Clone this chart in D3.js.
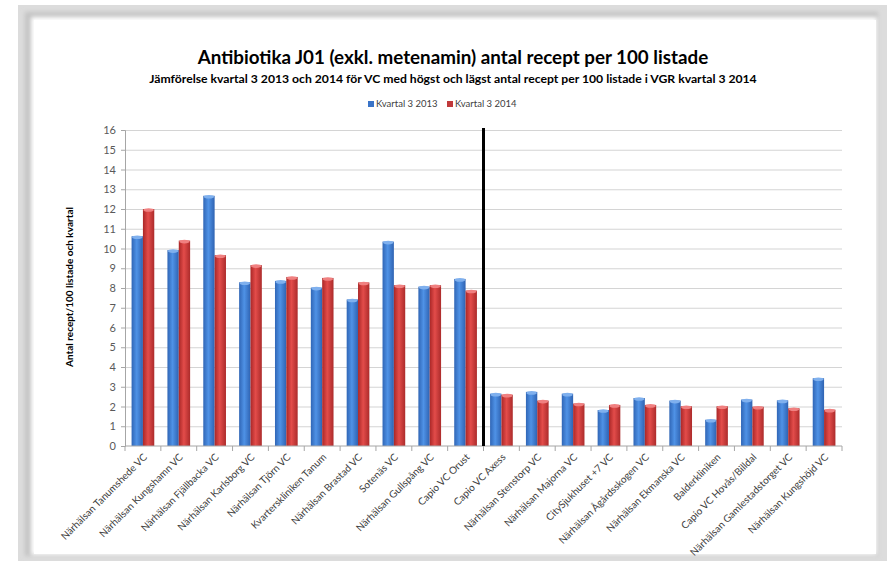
<!DOCTYPE html>
<html><head><meta charset="utf-8">
<script src="https://cdn.jsdelivr.net/npm/d3@7"></script>
<style>body{margin:0;background:#fff}svg{display:block}</style>
</head><body><svg id="c" width="887" height="561"></svg>
<script>
const categories = ["Närhälsan Tanumshede VC","Närhälsan Kungshamn VC","Närhälsan Fjällbacka VC","Närhälsan Karlsborg VC","Närhälsan Tjörn VC","Kvarterskliniken Tanum","Närhälsan Brastad VC","Sotenäs VC","Närhälsan Gullspång VC","Capio VC Orust","Capio VC Axess","Närhälsan Stenstorp VC","Närhälsan Majorna VC","CitySjukhuset +7 VC","Närhälsan Ågårdsskogen VC","Närhälsan Ekmanska VC","Balderkliniken","Capio VC Hovås/Billdal","Närhälsan Gamlestadstorget VC","Närhälsan Kungshöjd VC"];
const q3_2013 = [10.62,9.92,12.67,8.29,8.36,8.02,7.42,10.35,8.07,8.46,2.65,2.74,2.65,1.82,2.43,2.30,1.33,2.35,2.31,3.43];
const q3_2014 = [12.0,10.4,9.66,9.16,8.56,8.51,8.28,8.14,8.14,7.87,2.60,2.30,2.15,2.08,2.08,2.01,2.01,1.99,1.91,1.84];
const seriesNames = ["Kvartal 3 2013","Kvartal 3 2014"];
const yTicks = d3.range(0,17);
const dividerAfter = 10;

const svg = d3.select("#c");
const defs = svg.append("defs");
const blur = defs.append("filter").attr("id","bl").attr("x","-5%").attr("y","-5%").attr("width","110%").attr("height","110%");
blur.append("feGaussianBlur").attr("stdDeviation",2.2);
function grad(id, dark, mid, light){
  const g = defs.append("linearGradient").attr("id",id).attr("x1","0").attr("x2","1").attr("y1","0").attr("y2","0");
  g.append("stop").attr("offset","0%").attr("stop-color",dark);
  g.append("stop").attr("offset","45%").attr("stop-color",light);
  g.append("stop").attr("offset","100%").attr("stop-color",mid);
}
grad("gb","#3066b6","#2f63b2","#4f92e6");
grad("gr","#aa2727","#ac2b2b","#e34c4a");

// frame
svg.append("rect").attr("x",18).attr("y",5).attr("width",869).attr("height",556).attr("fill","#dcdcdc");
svg.append("rect").attr("x",25).attr("y",12).attr("width",853).attr("height",544).attr("fill","#c2c2c2").attr("filter","url(#bl)");
svg.append("rect").attr("x",31).attr("y",17).attr("width",846).attr("height",538).attr("fill","#fff").attr("filter","url(#bl)");
svg.append("rect").attr("x",34).attr("y",20).attr("width",842).attr("height",534).attr("fill","#fff");

const m = {l:125, r:842, t:130, b:446};
const x = d3.scaleBand().domain(categories).range([m.l, m.r]).paddingInner(0).paddingOuter(0);
const xs = d3.scaleBand().domain(seriesNames).range([0, x.bandwidth()]).paddingInner(0).paddingOuter(0.58);
const y = d3.scaleLinear().domain([0,16]).range([m.b, m.t]);

// gridlines
svg.append("g").selectAll("line").data(yTicks.slice(1)).join("line")
  .attr("x1",m.l).attr("x2",m.r).attr("y1",d=>y(d)+0.5).attr("y2",d=>y(d)+0.5)
  .attr("stroke","#d4d4d4").attr("stroke-width",1.2);

// y axis
const ya = svg.append("g").attr("transform",`translate(${m.l},0)`)
  .call(d3.axisLeft(y).tickValues(yTicks).tickSize(4).tickPadding(5));
ya.select(".domain").attr("stroke","#a6a6a6");
ya.selectAll(".tick line").attr("stroke","#a6a6a6");
ya.selectAll("text").attr("font-family","Lato, 'Open Sans', sans-serif").attr("font-size",11).attr("fill","#595959");

// bars
const data = categories.map((c,i)=>({c, vals:[q3_2013[i], q3_2014[i]]}));
const gcat = svg.append("g").selectAll("g").data(data).join("g").attr("transform",d=>`translate(${x(d.c)},0)`);
gcat.selectAll("rect").data(d=>d.vals.map((v,j)=>({v,s:seriesNames[j],j}))).join("rect")
  .attr("x",d=>xs(d.s)).attr("width",xs.bandwidth()).attr("y",d=>y(d.v)).attr("height",d=>y(0)-y(d.v))
  .attr("fill",d=>d.j===0?"url(#gb)":"url(#gr)");
gcat.selectAll("ellipse").data(d=>d.vals.map((v,j)=>({v,s:seriesNames[j],j}))).join("ellipse")
  .attr("cx",d=>xs(d.s)+xs.bandwidth()/2).attr("cy",d=>y(d.v)+1).attr("rx",xs.bandwidth()/2-0.5).attr("ry",1.8)
  .attr("fill",d=>d.j===0?"#7fb0ee":"#f08080");

// x axis
const xa = svg.append("g").attr("transform",`translate(0,${m.b})`);
xa.append("line").attr("x1",m.l).attr("x2",m.r).attr("stroke","#a6a6a6");
xa.selectAll("line.t").data(d3.range(categories.length+1)).join("line").attr("class","t")
  .attr("x1",i=>m.l+i*x.step()).attr("x2",i=>m.l+i*x.step()).attr("y1",0).attr("y2",5).attr("stroke","#a6a6a6");
xa.selectAll("text").data(categories).join("text")
  .attr("transform",d=>`translate(${x(d)+x.bandwidth()/2+3},${10}) rotate(-45)`)
  .attr("text-anchor","end").attr("dominant-baseline","middle")
  .attr("font-family","Lato, 'Open Sans', sans-serif").attr("font-size",10).attr("fill","#404040").text(d=>d);

// divider
const dx = m.l + dividerAfter*x.step();
svg.append("line").attr("x1",dx).attr("x2",dx).attr("y1",m.t-2).attr("y2",m.b).attr("stroke","#000").attr("stroke-width",3);

// titles
svg.append("text").attr("x",453).attr("y",64).attr("text-anchor","middle")
  .attr("font-family","Lato, sans-serif").attr("font-weight","bold").attr("font-size",18.8).attr("fill","#000")
  .text("Antibiotika J01 (exkl. metenamin) antal recept per 100 listade");
svg.append("text").attr("x",453).attr("y",83).attr("text-anchor","middle")
  .attr("font-family","Lato, sans-serif").attr("font-weight","bold").attr("font-size",12.2).attr("fill","#000")
  .text("Jämförelse kvartal 3 2013 och 2014 för VC med högst och lägst antal recept per 100 listade i VGR kvartal 3 2014");

// legend
const lg = svg.append("g").attr("transform","translate(368,105)");
const li = lg.selectAll("g").data(seriesNames).join("g").attr("transform",(d,i)=>`translate(${i*79},0)`);
li.append("rect").attr("x",0).attr("y",-4).attr("width",6).attr("height",6).attr("fill",(d,i)=>i===0?"#3a74c8":"#c0393b");
li.append("text").attr("x",8).attr("y",0).attr("dominant-baseline","middle")
  .attr("font-family","Lato, sans-serif").attr("font-size",9.5).attr("fill","#404040").text(d=>d);

// y label
svg.append("text").attr("transform","translate(73,287) rotate(-90)").attr("text-anchor","middle")
  .attr("font-family","Lato, sans-serif").attr("font-weight","bold").attr("font-size",10).attr("fill","#000")
  .text("Antal recept/100 listade och kvartal");
</script></body></html>
